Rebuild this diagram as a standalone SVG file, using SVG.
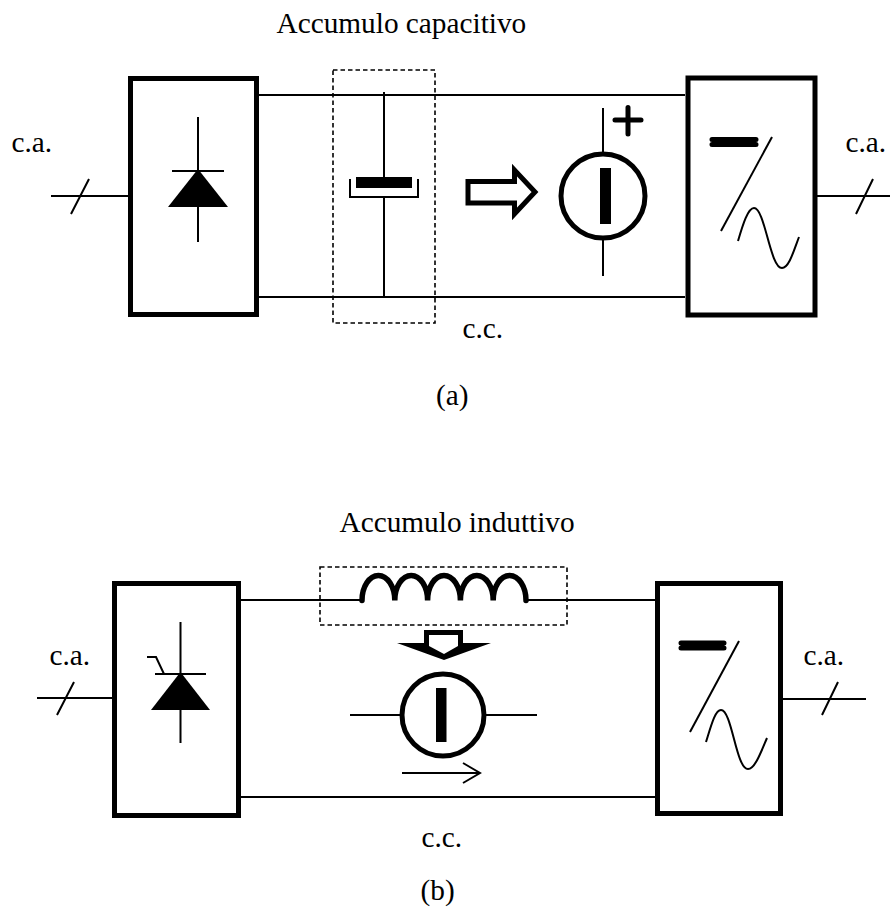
<svg xmlns="http://www.w3.org/2000/svg" width="891" height="907" viewBox="0 0 891 907">
<style>
text{font-family:"Liberation Serif","Times New Roman",serif;font-size:29.3px;fill:#000}
.box{fill:#fff;stroke:#000;stroke-width:5}
.l{fill:none;stroke:#000;stroke-width:2}
.dash{fill:none;stroke:#000;stroke-width:1.6;stroke-dasharray:4.5 3}
.f{fill:#000;stroke:none}
.wht{fill:#fff;stroke:#000;stroke-width:5}
.th{fill:none;stroke:#000;stroke-width:5;stroke-linecap:round}
</style>
<rect width="891" height="907" fill="#fff"/>
<g id="connectors">
<path class="l" d="M51 196H128M89 179L71 214M259 95H685M259 297H685M817 196H890M873 179L856 214"/>
<path class="l" d="M37 698H112M74 682L57 715M241 600H362M526 600H655M241 797H655M783 699H866M838 682L822 715"/>
</g>
<g id="title-a"><text x="276.500" y="33">Accumulo capacitivo</text></g>
<g id="rectifier-a">
<rect class="box" x="130.500" y="78.500" width="126" height="236"/>
<path class="l" d="M198 117V242M172 171H224"/>
<path class="f" d="M198 169L228 207H168Z"/>
</g>
<g id="capacitor-a">
<rect class="dash" x="333" y="70" width="102" height="253"/>
<path class="l" d="M384 92V177M384 196V297"/>
<rect class="f" x="356" y="177" width="56" height="11"/>
<path class="l" d="M350 179V197H418V179"/>
</g>
<g id="arrow-a"><path class="wht" d="M468 181.500H514.500V170L535 192L514.500 214V203H468Z"/></g>
<g id="source-a">
<path class="l" d="M603 108V154M603 238V276"/>
<circle class="wht" cx="603" cy="196" r="42"/>
<rect class="f" x="600" y="168" width="11" height="56"/>
<path class="th" d="M628 107.500V134M615 120H641"/>
</g>
<g id="inverter-a">
<rect class="box" x="688" y="78" width="127" height="237"/>
<path class="th" d="M712 139.500H756M712 144.500H756"/>
<path class="l" d="M772 137L721 231"/>
<path class="l" d="M738 241C743 224 748 208 754 208C765 208 770 268 782 268C789 268 794 250 799 237"/>
</g>
<g id="label-ca-a-left"><text x="11.500" y="152">c.a.</text></g>
<g id="label-ca-a-right"><text x="845.500" y="152">c.a.</text></g>
<g id="label-cc-a"><text x="462.500" y="338">c.c.</text></g>
<g id="label-a"><text x="436" y="405">(a)</text></g>
<g id="title-b"><text x="339.500" y="532">Accumulo induttivo</text></g>
<g id="rectifier-b">
<rect class="box" x="114.500" y="583.500" width="124" height="232"/>
<path class="l" d="M180.500 622V743M155 674H206M147 657H156L164 674"/>
<path class="f" d="M180.500 672L210 710H151Z"/>
</g>
<g id="inductor-b">
<rect class="dash" x="320" y="567" width="247" height="58"/>
<path fill="none" stroke="#000" stroke-width="5.500" stroke-linecap="round" d="M362 600.500A16.400 25 0 0 1 394.800 600.500A16.400 25 0 0 1 427.600 600.500A16.400 25 0 0 1 460.400 600.500A16.400 25 0 0 1 493.200 600.500A16.400 25 0 0 1 526 600.500"/>
</g>
<g id="arrow-b"><path class="f" fill-rule="evenodd" d="M424 630H463V643H491L444 660L397 643H424ZM429 635V646L444 654L458 646V635Z"/></g>
<g id="source-b">
<path class="l" d="M350 715H402M484 715H537"/>
<circle class="wht" cx="443" cy="715" r="41"/>
<rect class="f" x="436" y="688" width="10.500" height="54"/>
<path class="l" d="M402 773H480M463 763L480 773L463 783"/>
</g>
<g id="inverter-b">
<rect class="box" x="657.500" y="583.500" width="123" height="230"/>
<path class="th" d="M681 643H724M681 648H724"/>
<path class="l" d="M739 641L690 732"/>
<path class="l" d="M706 742C711 726 715 710 721 710C732 710 736 769 748 769C755 769 761 752 767 738"/>
</g>
<g id="label-ca-b-left"><text x="49.500" y="665">c.a.</text></g>
<g id="label-ca-b-right"><text x="803.500" y="665">c.a.</text></g>
<g id="label-cc-b"><text x="421.500" y="847">c.c.</text></g>
<g id="label-b"><text x="420.500" y="900">(b)</text></g>
</svg>
